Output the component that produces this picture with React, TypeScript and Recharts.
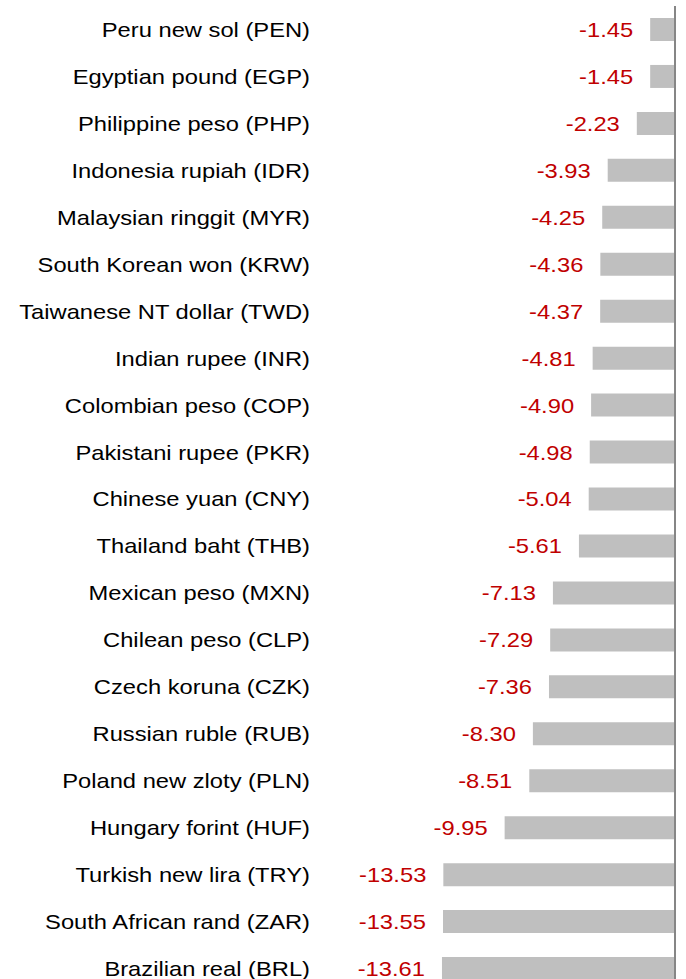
import { BarChart, Bar, XAxis, YAxis, ReferenceLine, LabelList } from "recharts";

const currencies = [
  "Peru new sol (PEN)",
  "Egyptian pound (EGP)",
  "Philippine peso (PHP)",
  "Indonesia rupiah (IDR)",
  "Malaysian ringgit (MYR)",
  "South Korean won (KRW)",
  "Taiwanese NT dollar (TWD)",
  "Indian rupee (INR)",
  "Colombian peso (COP)",
  "Pakistani rupee (PKR)",
  "Chinese yuan (CNY)",
  "Thailand baht (THB)",
  "Mexican peso (MXN)",
  "Chilean peso (CLP)",
  "Czech koruna (CZK)",
  "Russian ruble (RUB)",
  "Poland new zloty (PLN)",
  "Hungary forint (HUF)",
  "Turkish new lira (TRY)",
  "South African rand (ZAR)",
  "Brazilian real (BRL)",
];

const changes = [
  -1.45, -1.45, -2.23, -3.93, -4.25, -4.36, -4.37, -4.81, -4.9, -4.98, -5.04,
  -5.61, -7.13, -7.29, -7.36, -8.3, -8.51, -9.95, -13.53, -13.55, -13.61,
];

const data = currencies.map((name, i) => ({ name, value: changes[i] }));

const FONT = "'Liberation Sans', Arial, sans-serif";
const STRETCH = 1.13;

function CurrencyTick(props: any) {
  const { x, y, payload } = props;
  return (
    <text
      transform={`translate(${x}, ${y}) scale(${STRETCH}, 1)`}
      textAnchor="end"
      dy="0.355em"
      fontFamily={FONT}
      fontSize={21}
      fill="#000"
    >
      {payload.value}
    </text>
  );
}

function ValueLabel(props: any) {
  const { x, y, width, height, value } = props;
  const left = Math.min(x, x + width);
  return (
    <text
      transform={`translate(${left - 17}, ${y + height / 2}) scale(${STRETCH}, 1)`}
      textAnchor="end"
      dy="0.355em"
      fontFamily={FONT}
      fontSize={21}
      fill="#c00000"
    >
      {Number(value).toFixed(2)}
    </text>
  );
}

export default function App() {
  return (
    <div
      style={{
        position: "absolute",
        left: 0,
        top: 0,
        width: 686,
        height: 979,
        overflow: "hidden",
        background: "#fff",
      }}
    >
      <BarChart
        width={686}
        height={993}
        data={data}
        layout="vertical"
        margin={{ top: 6, right: 11, bottom: 1, left: 0 }}
        barSize={23}
      >
        <XAxis type="number" domain={[-20.85, 0]} hide allowDataOverflow />
        <YAxis
          type="category"
          dataKey="name"
          width={318}
          axisLine={false}
          tickLine={false}
          tickSize={0}
          tickMargin={8}
          interval={0}
          tick={<CurrencyTick />}
        />
        <Bar dataKey="value" fill="#bfbfbf" isAnimationActive={false}>
          <LabelList dataKey="value" content={<ValueLabel />} />
        </Bar>
        <ReferenceLine x={0} stroke="#868686" strokeWidth={2} />
      </BarChart>
    </div>
  );
}
